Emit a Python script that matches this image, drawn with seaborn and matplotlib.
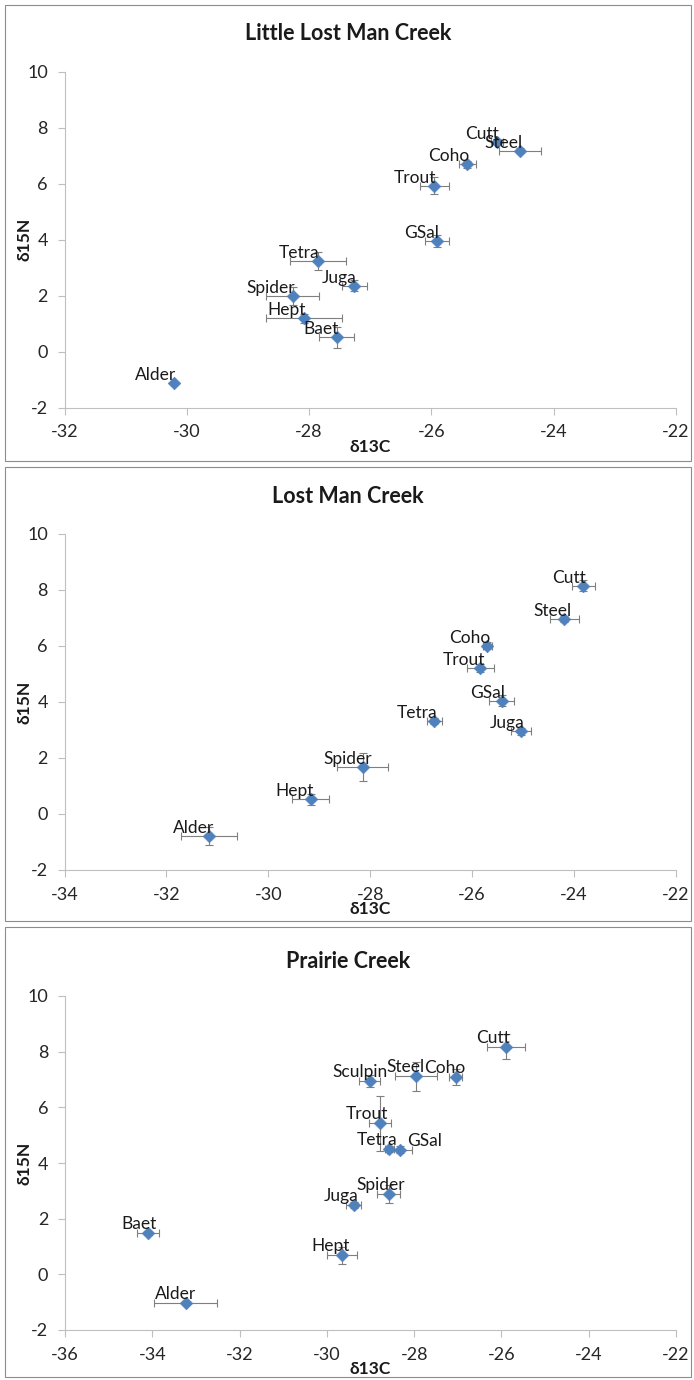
import numpy as np
import pandas as pd
import matplotlib
matplotlib.use("Agg")
import matplotlib.pyplot as plt
import seaborn as sns
from matplotlib.patches import Rectangle

# ---- Little Lost Man Creek: mean and SD of stable isotope ratios ----
llm_taxa = ["Alder", "Baet", "Hept", "Spider", "Tetra", "Juga", "GSal", "Trout", "Coho", "Cutt", "Steel"]
llm_d13c = [-30.21, -27.55, -28.08, -28.27, -27.86, -27.26, -25.91, -25.95, -25.41, -24.93, -24.55]
llm_d15n = [-1.13, 0.51, 1.19, 1.99, 3.24, 2.35, 3.95, 5.93, 6.69, 7.50, 7.18]
llm_d13c_sd = [0.0, 0.29, 0.62, 0.43, 0.46, 0.20, 0.19, 0.23, 0.14, 0.10, 0.34]
llm_d15n_sd = [0.0, 0.38, 0.15, 0.32, 0.32, 0.20, 0.20, 0.30, 0.12, 0.10, 0.10]

# ---- Lost Man Creek ----
lm_taxa = ["Alder", "Hept", "Spider", "Tetra", "Juga", "GSal", "Trout", "Coho", "Steel", "Cutt"]
lm_d13c = [-31.17, -29.17, -28.15, -26.74, -25.04, -25.42, -25.84, -25.70, -24.19, -23.82]
lm_d15n = [-0.79, 0.53, 1.69, 3.32, 2.95, 4.04, 5.21, 6.01, 6.96, 8.15]
lm_d13c_sd = [0.55, 0.37, 0.50, 0.15, 0.20, 0.25, 0.26, 0.08, 0.29, 0.23]
lm_d15n_sd = [0.32, 0.20, 0.50, 0.10, 0.12, 0.20, 0.15, 0.12, 0.10, 0.20]

# ---- Prairie Creek ----
pc_taxa = ["Alder", "Baet", "Hept", "Juga", "Spider", "Tetra", "GSal", "Trout", "Sculpin", "Steel", "Coho", "Cutt"]
pc_d13c = [-33.23, -34.09, -29.65, -29.38, -28.58, -28.57, -28.33, -28.79, -29.02, -27.95, -27.05, -25.90]
pc_d15n = [-1.02, 1.48, 0.68, 2.49, 2.90, 4.50, 4.48, 5.42, 6.95, 7.11, 7.09, 8.17]
pc_d13c_sd = [0.72, 0.25, 0.35, 0.17, 0.26, 0.10, 0.29, 0.25, 0.24, 0.48, 0.15, 0.43]
pc_d15n_sd = [0.05, 0.08, 0.30, 0.12, 0.32, 0.12, 0.12, 1.00, 0.22, 0.53, 0.30, 0.45]

x_ticks_llm = [-32, -30, -28, -26, -24, -22]
x_ticks_lm = [-34, -32, -30, -28, -26, -24, -22]
x_ticks_pc = [-36, -34, -32, -30, -28, -26, -24, -22]
y_ticks = [-2, 0, 2, 4, 6, 8, 10]

sns.set_style("white")
plt.rcParams["font.family"] = ["Lato", "DejaVu Sans"]
plt.rcParams["axes.unicode_minus"] = False

W, H = 694, 1380
fig = plt.figure(figsize=(W / 100, H / 100), dpi=100)

MARKER_BLUE = "#4F81BD"
ERR_GREY = "#7F7F7F"
AXIS_GREY = "#BFBFBF"
TEXT_DARK = "#262626"


def frame(left, top, right, bottom):
    fig.add_artist(Rectangle((left / W, 1 - bottom / H), (right - left) / W, (bottom - top) / H,
                             transform=fig.transFigure, fill=False,
                             edgecolor="#8C8C8C", linewidth=0.8))


def axes_px(left, top, right, bottom):
    return fig.add_axes([left / W, 1 - bottom / H, (right - left) / W, (bottom - top) / H])


def draw_panel(ax, title, box, title_y, taxa, d13c, d15n, sd13c, sd15n, xticks,
               label_default, label_overrides):
    df = pd.DataFrame({"taxon": taxa, "d13c": d13c, "d15n": d15n,
                       "sd13c": sd13c, "sd15n": sd15n})
    ax.errorbar(df["d13c"], df["d15n"], xerr=df["sd13c"], yerr=df["sd15n"], fmt="none",
                ecolor=ERR_GREY, elinewidth=0.8, capsize=2.6, capthick=0.8, zorder=2)
    sns.scatterplot(data=df, x="d13c", y="d15n", ax=ax, marker="D", s=42,
                    color=MARKER_BLUE, edgecolor=MARKER_BLUE, linewidth=0.4,
                    zorder=3, legend=False)
    for _, row in df.iterrows():
        dx, dy, ha = label_overrides.get(row["taxon"], label_default)
        ax.annotate(row["taxon"], (row["d13c"], row["d15n"]), xytext=(dx, dy),
                    textcoords="offset pixels", ha=ha, va="baseline",
                    fontsize=12.5, color="#1A1A1A", zorder=4)

    ax.set_xlim(xticks[0], xticks[-1])
    ax.set_ylim(y_ticks[0], y_ticks[-1])
    ax.set_xticks(xticks)
    ax.set_yticks(y_ticks)
    ax.set_xticklabels([str(t) for t in xticks])
    ax.set_yticklabels([str(t) for t in y_ticks])
    ax.tick_params(axis="both", direction="out", length=5, width=0.8, color=AXIS_GREY,
                   labelsize=13, labelcolor=TEXT_DARK, pad=7, bottom=True, left=True)
    for side in ("top", "right"):
        ax.spines[side].set_visible(False)
    for side in ("left", "bottom"):
        ax.spines[side].set_color(AXIS_GREY)
        ax.spines[side].set_linewidth(0.8)

    ax.set_xlabel("δ13C", fontsize=12.5, fontweight="bold", color="#1A1A1A")
    ax.set_ylabel("δ15N", fontsize=12.5, fontweight="bold", color="#1A1A1A")
    ax.xaxis.label.set_va("center")
    ax.yaxis.label.set_va("center")
    pos = ax.get_position()
    ax_w_px = pos.width * W
    ax_h_px = pos.height * H
    ax.xaxis.set_label_coords(0.5, -39 / ax_h_px)
    ax.yaxis.set_label_coords(-(pos.x0 * W - 25) / ax_w_px, 0.5)

    frame(*box)
    fig.text(((box[0] + box[2]) / 2) / W, 1 - title_y / H, title, ha="center", va="center",
             fontsize=15.5, fontweight="bold", color="#1A1A1A")


ax1 = axes_px(64.5, 71.7, 676, 407.7)
draw_panel(ax1, "Little Lost Man Creek", (5, 5, 691, 461), 33,
           llm_taxa, llm_d13c, llm_d15n, llm_d13c_sd, llm_d15n_sd, x_ticks_llm,
           (2, 3, "right"), {})

ax2 = axes_px(64.5, 534, 676, 870)
draw_panel(ax2, "Lost Man Creek", (5, 467, 691, 921), 497,
           lm_taxa, lm_d13c, lm_d15n, lm_d13c_sd, lm_d15n_sd, x_ticks_lm,
           (3, 3, "right"),
           {"Spider": (9, 3, "right"), "Steel": (7, 3, "right"),
            "Alder": (5, 3, "right"), "Trout": (5, 3, "right")})

ax3 = axes_px(65, 996, 676, 1330)
draw_panel(ax3, "Prairie Creek", (5, 927, 691, 1377), 961,
           pc_taxa, pc_d13c, pc_d15n, pc_d13c_sd, pc_d15n_sd, x_ticks_pc,
           (8, 4, "right"),
           {"Sculpin": (18, 4, "right"), "Spider": (16, 4, "right"),
            "Alder": (10, 4, "right"), "Coho": (10, 4, "right"),
            "Cutt": (4, 4, "right"), "Juga": (5, 4, "right"),
            "GSal": (7, 4, "left")})

fig.savefig("out.png", dpi=100, facecolor="white")
